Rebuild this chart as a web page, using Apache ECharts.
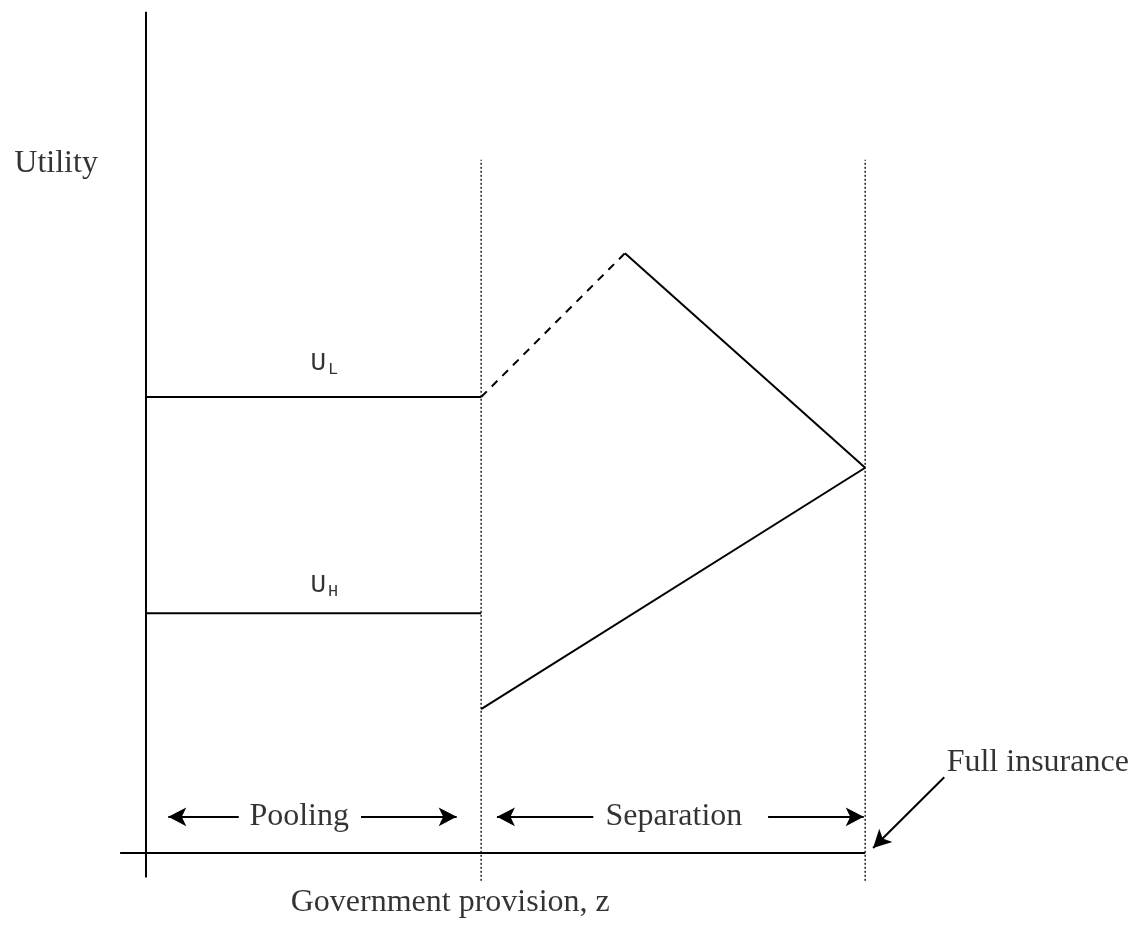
<!DOCTYPE html>
<html>
<head>
<meta charset="utf-8">
<script src="https://cdn.jsdelivr.net/npm/echarts@6/dist/echarts.min.js"></script>
<style>
  html, body { margin: 0; padding: 0; background: #fff; }
  #chart { width: 1137px; height: 938px; }
</style>
</head>
<body>
<div id="chart"></div>
<script>
// z positions: origin, end of pooling, kink of U_L, full insurance
const zPool = 46.6;
const zPeak = 66.6;
const zFull = 100;

// utility levels
const uLowPool = 54.2;   // U_L in pooling region
const uLowPeak = 71.3;   // top of U_L after pooling ends
const uMeet = 45.8;      // both meet at full insurance
const uHighPool = 28.5;  // U_H in pooling region
const uHighSep = 17.1;   // U_H right after pooling ends

const yAxisTop = 100;
const yAxisBottom = -2.9;
const xAxisLeft = -3.6;
const guideTop = 82.4;
const guideBottom = -3.3;

const solid = { color: '#000', width: 2, type: 'solid' };

function seg(name, pts, style) {
  return {
    name: name,
    type: 'line',
    data: pts,
    symbol: 'none',
    silent: true,
    animation: false,
    lineStyle: style
  };
}

const chart = echarts.init(document.getElementById('chart'));

const serif = 'Liberation Serif';
const mono = 'Liberation Mono';

const arrowY = 4.3;
const arrows = [
  [[12.9, arrowY], [3.1, arrowY]],
  [[29.9, arrowY], [43.2, arrowY]],
  [[62.2, arrowY], [48.8, arrowY]],
  [[86.5, arrowY], [99.8, arrowY]],
  [[111.0, 9.0], [101.1, 0.6]]
];

const labels = [
  { value: [-12.5, 82.0], text: 'Utility', font: serif },
  { value: [24.8, 58.2], text: 'U{s|L}', font: mono },
  { value: [24.8, 31.8], text: 'U{s|H}', font: mono },
  { value: [21.3, arrowY], text: 'Pooling', font: serif },
  { value: [73.4, arrowY], text: 'Separation', font: serif },
  { value: [124.0, 10.7], text: 'Full insurance', font: serif },
  { value: [42.3, -5.9], text: 'Government provision, z', font: serif }
];

const option = {
  backgroundColor: '#fff',
  animation: false,
  grid: { left: 0, right: 0, top: 0, bottom: 0 },
  xAxis: { type: 'value', min: -20.3, max: 137.8, show: false },
  yAxis: { type: 'value', min: -10.1, max: 101.4, show: false },
  series: [
    // axes
    seg('yaxis', [[0, yAxisBottom], [0, yAxisTop]], solid),
    seg('xaxis', [[xAxisLeft, 0], [zFull, 0]], solid),
    // dotted guides
    seg('guidePool', [[zPool, guideBottom], [zPool, guideTop]], { color: '#000', width: 1.3, type: [2, 2] }),
    seg('guideFull', [[zFull, guideBottom], [zFull, guideTop]], { color: '#000', width: 1.3, type: [2, 2] }),
    // U_L
    seg('UL pool', [[0, uLowPool], [zPool, uLowPool]], solid),
    seg('UL dash', [[zPool, uLowPool], [zPeak, uLowPeak]], { color: '#000', width: 2, type: [8, 7] }),
    seg('UL sep', [[zPeak, uLowPeak], [zFull, uMeet]], solid),
    // U_H
    seg('UH pool', [[0, uHighPool], [zPool, uHighPool]], solid),
    seg('UH sep', [[zPool, uHighSep], [zFull, uMeet]], solid),
    // arrows
    {
      name: 'arrows',
      type: 'line',
      data: [],
      silent: true,
      markLine: {
        silent: true,
        animation: false,
        symbol: ['none', 'arrow'],
        symbolSize: [14, 18],
        label: { show: false },
        lineStyle: { color: '#000', width: 2, type: 'solid' },
        data: arrows.map(a => [{ coord: a[0] }, { coord: a[1] }])
      }
    },
    // text
    {
      name: 'labels',
      type: 'scatter',
      symbolSize: 0,
      silent: true,
      itemStyle: { color: '#000' },
      data: labels.map(l => ({
        value: l.value,
        label: {
          show: true,
          position: 'inside',
          formatter: l.text,
          color: '#000',
          textBorderWidth: 0,
          fontFamily: l.font,
          fontSize: l.font === mono ? 26 : 32,
          rich: {
            s: { fontFamily: mono, fontSize: 17, color: '#000', padding: [12, 0, 0, 2] }
          }
        }
      }))
    }
  ]
};

chart.setOption(option);
</script>
</body>
</html>
